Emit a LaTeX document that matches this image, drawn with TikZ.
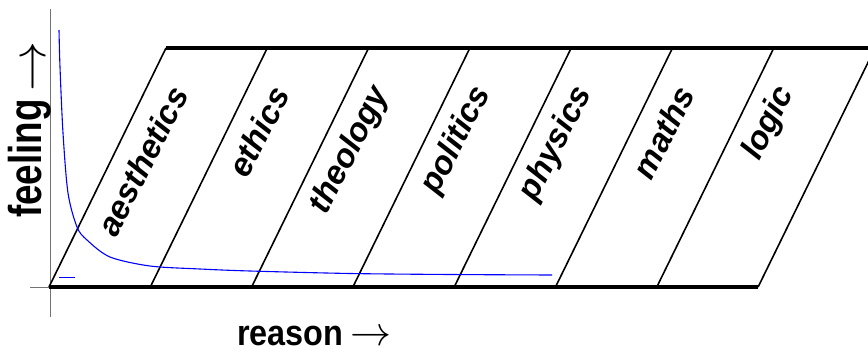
\documentclass[tikz,border=0pt]{standalone}
\usepackage{fontspec}
\usepackage{graphicx}
\setmainfont{Liberation Sans}
\newcommand{\toarrow}[1]{\resizebox{#1}{!}{$\rightarrow$}}
\tikzset{
  axis/.style={line width=0.8pt, draw=black!55},
  rail/.style={line width=4pt, draw=black, line cap=butt},
  divider/.style={line width=1.6pt, draw=black, line cap=butt},
  curve/.style={line width=1.1pt, draw=blue},
  axislabel/.style={font=\bfseries, inner sep=0pt},
  subject/.style={font=\fontsize{33}{33}\selectfont\bfseries\itshape, inner sep=0pt, rotate=63, anchor=east},
}

\begin{document}
\begin{tikzpicture}[x=1pt, y=1pt]
\useasboundingbox (0,0) rectangle (868,349);
% axes
\coordinate (ytop) at (50,340);
\coordinate (ybot) at (50,32);
\coordinate (xtick) at (30,62);
\coordinate (org) at (50,62);
\draw[axis] (ybot) -- (ytop);
\draw[axis] (xtick) -- (org);
% bottom and top rails
\coordinate (b0) at (49,62);
\coordinate (b1) at (150.3,62);
\coordinate (b2) at (251.6,62);
\coordinate (b3) at (352.9,62);
\coordinate (b4) at (454.2,62);
\coordinate (b5) at (555.5,62);
\coordinate (b6) at (656.8,62);
\coordinate (b7) at (758.1,62);
\coordinate (t0) at (166,301);
\coordinate (t1) at (267.3,301);
\coordinate (t2) at (368.6,301);
\coordinate (t3) at (469.9,301);
\coordinate (t4) at (571.2,301);
\coordinate (t5) at (672.5,301);
\coordinate (t6) at (773.8,301);
\coordinate (t7) at (875.1,301);
\draw[divider] (b0) -- (t0);
\draw[divider] (b1) -- (t1);
\draw[divider] (b2) -- (t2);
\draw[divider] (b3) -- (t3);
\draw[divider] (b4) -- (t4);
\draw[divider] (b5) -- (t5);
\draw[divider] (b6) -- (t6);
\draw[divider] (b7) -- (t7);
\draw[rail] (b0) -- (b7);
\draw[rail] (t0) -- (t7);
% reason vs feeling
\draw[curve] plot[smooth, tension=0.5] coordinates {(59,319) (60,282) (63,216) (68,156) (77,122) (87,109) (110,92) (150,83) (200,80) (250,78) (350,75.5) (450,74.5) (552,74)};
\coordinate (dashl) at (59,72);
\coordinate (dashr) at (75,72);
\draw[curve, line width=0.8pt] (dashl) -- (dashr);
% subjects
\node[subject] (aesthetics) at (179,260) {aesthetics};
\node[subject] (ethics) at (280.3,260) {ethics};
\node[subject] (theology) at (381.6,260) {theology};
\node[subject] (politics) at (482.9,260) {politics};
\node[subject] (physics) at (584.2,260) {physics};
\node[subject] (maths) at (685.5,260) {maths};
\node[subject] (logic) at (786.8,260) {logic};
% axis names (narrowed a bit)
\node[axislabel, anchor=base west] (reason) at (237,3.5) {\fontsize{36}{36}\selectfont\scalebox{0.9}[1]{reason}\hspace{7pt}\toarrow{41pt}};
\node[axislabel, rotate=90, anchor=base west] (feeling) at (41,131) {\fontsize{46}{46}\selectfont\scalebox{0.8}[1]{feeling}\hspace{8pt}\raisebox{-5pt}{\toarrow{50pt}}};
\end{tikzpicture}
\end{document}
